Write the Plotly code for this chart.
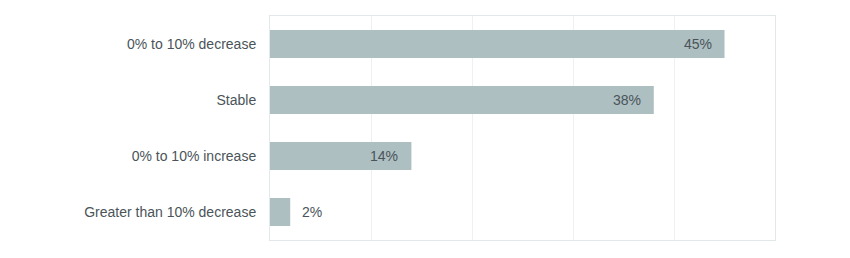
import plotly.graph_objects as go

categories = ["0% to 10% decrease", "Stable", "0% to 10% increase", "Greater than 10% decrease"]
values = [45, 38, 14, 2]
value_labels = ["45%", "38%", "14%", "2%"]

bar_color = "#aebfc2"
text_color = "#4a5459"
grid_color = "#eef1f3"
border_color = "#e2e7ea"
font_family = "Liberation Sans, Arial, sans-serif"

fig = go.Figure(
    go.Bar(
        y=categories,
        x=values,
        orientation="h",
        marker=dict(color=bar_color, line=dict(width=0)),
        hoverinfo="skip",
    )
)

annotations = []
for cat, v, lab in zip(categories, values, value_labels):
    inside = v >= 10
    annotations.append(
        dict(
            x=v, y=cat, xref="x", yref="y", text=lab, showarrow=False,
            xanchor="right" if inside else "left",
            xshift=-11 if inside else 10,
            font=dict(family=font_family, size=14, color=text_color),
        )
    )

fig.update_layout(
    width=850, height=258,
    margin=dict(l=270, r=75, t=16, b=18),
    paper_bgcolor="white", plot_bgcolor="white",
    bargap=0.5,
    showlegend=False,
    annotations=annotations,
    font=dict(family=font_family, size=14, color=text_color),
    xaxis=dict(
        range=[0, 50], dtick=10, showticklabels=False, showgrid=True,
        gridcolor=grid_color, gridwidth=1, zeroline=False,
        showline=True, linecolor=border_color, linewidth=1, mirror=True, ticks="",
    ),
    yaxis=dict(
        autorange="reversed", showgrid=False, zeroline=False,
        showline=True, linecolor=border_color, linewidth=1, mirror=True,
        ticks="outside", ticklen=10, tickcolor="rgba(0,0,0,0)",
        tickfont=dict(family=font_family, size=14, color=text_color),
    ),
)

fig.write_html("out.html")
